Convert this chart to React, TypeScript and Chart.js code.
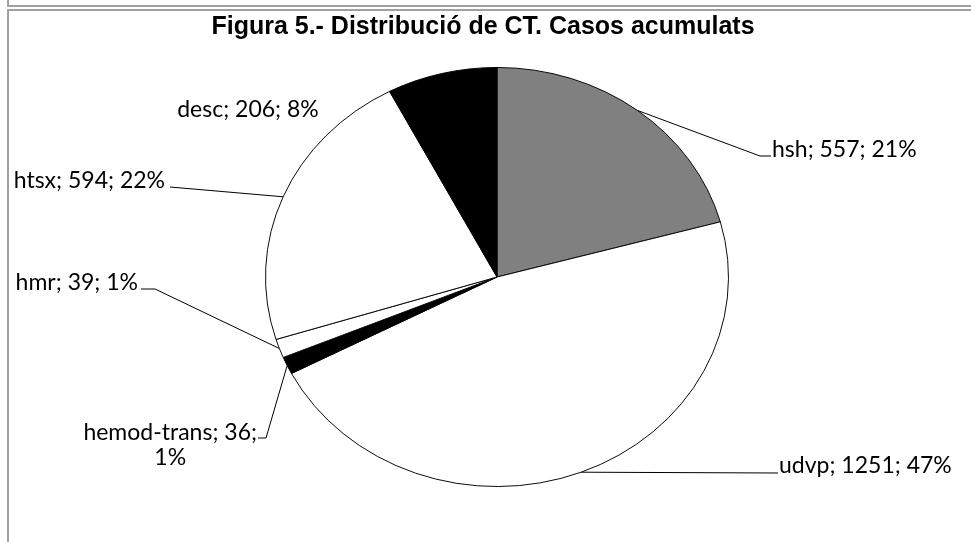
import React, { useEffect, useRef } from "react";
import { Chart, registerables } from "chart.js";

Chart.register(...registerables);

const TITLE = "Figura 5.- Distribució de CT. Casos acumulats";
const categories = ["hsh", "udvp", "hemod-trans", "hmr", "htsx", "desc"];
const values = [557, 1251, 36, 39, 594, 206];
const sliceColors = ["#808080", "#ffffff", "#000000", "#ffffff", "#ffffff", "#000000"];

// vertical squash of the pie (the reference pie is an ellipse, wider than tall)
const SQUASH = 210 / 232;

type LabelSpec = {
  x: number;
  y: number;
  align: CanvasTextAlign;
  split?: boolean;
  path?: number[][];
};

const LABEL_LAYOUT: LabelSpec[] = [
  { x: 772, y: 150, align: "left", path: [[760, 156], [771, 156]] },
  { x: 779, y: 466, align: "left", path: [[778, 473]] },
  { x: 257, y: 433, align: "right", split: true, path: [[266, 438], [258, 438]] },
  { x: 138, y: 283, align: "right", path: [[155, 289], [141, 289]] },
  { x: 165, y: 181, align: "right", path: [[170, 187]] },
  { x: 248, y: 110, align: "center" },
];

const LABEL_FONT = '23px Lato, "Noto Sans", sans-serif';

const ellipsePlugin = {
  id: "ellipse",
  beforeDatasetsDraw(chart: any) {
    const el = chart.getDatasetMeta(0).data[0];
    const ctx = chart.ctx;
    ctx.save();
    ctx.translate(el.x, el.y);
    ctx.scale(1, SQUASH);
    ctx.translate(-el.x, -el.y);
  },
  afterDatasetsDraw(chart: any) {
    chart.ctx.restore();
  },
};

const labelPlugin = {
  id: "pieLabels",
  afterDraw(chart: any) {
    const ctx = chart.ctx;
    const total = values.reduce((a, b) => a + b, 0);
    ctx.save();
    ctx.fillStyle = "#000";
    ctx.font = 'bold 25px "Liberation Sans", Arial, sans-serif';
    ctx.textAlign = "center";
    ctx.textBaseline = "middle";
    ctx.fillText(TITLE, 483, 27);
    ctx.restore();

    const meta = chart.getDatasetMeta(0);
    meta.data.forEach((el: any, i: number) => {
      const { x, y, startAngle, endAngle, outerRadius } = el.getProps(
        ["x", "y", "startAngle", "endAngle", "outerRadius"],
        true
      );
      const mid = (startAngle + endAngle) / 2;
      const ex = x + outerRadius * Math.cos(mid);
      const ey = y + SQUASH * outerRadius * Math.sin(mid);
      const spec = LABEL_LAYOUT[i];
      ctx.save();
      ctx.strokeStyle = "#000";
      ctx.lineWidth = 1;
      if (spec.path) {
        ctx.beginPath();
        ctx.moveTo(ex, ey);
        spec.path.forEach((p) => ctx.lineTo(p[0], p[1]));
        ctx.stroke();
      }
      const pct = Math.round((values[i] / total) * 100) + "%";
      ctx.fillStyle = "#000";
      ctx.font = LABEL_FONT;
      ctx.textBaseline = "middle";
      if (spec.split) {
        const l1 = `${categories[i]}; ${values[i]};`;
        const w = ctx.measureText(l1).width;
        ctx.textAlign = "center";
        const cx = spec.align === "right" ? spec.x - w / 2 : spec.x + w / 2;
        ctx.fillText(l1, cx, spec.y);
        ctx.fillText(pct, cx, spec.y + 25);
      } else {
        ctx.textAlign = spec.align;
        ctx.fillText(`${categories[i]}; ${values[i]}; ${pct}`, spec.x, spec.y);
      }
      ctx.restore();
    });
  },
};

export default function App() {
  const ref = useRef<HTMLCanvasElement>(null);
  useEffect(() => {
    if (!ref.current) return;
    const chart = new Chart(ref.current, {
      type: "pie",
      data: {
        labels: categories,
        datasets: [
          {
            data: values,
            backgroundColor: sliceColors,
            borderColor: "#000",
            borderWidth: 1,
            hoverOffset: 0,
          },
        ],
      },
      options: {
        animation: false,
        responsive: false,
        maintainAspectRatio: false,
        layout: { padding: { left: 265, right: 242, top: 42, bottom: 30 } },
        plugins: {
          legend: { display: false },
          tooltip: { enabled: false },
          title: { display: false },
        },
      },
      plugins: [ellipsePlugin, labelPlugin],
    });
    return () => chart.destroy();
  }, []);

  const line = (style: React.CSSProperties) => (
    <div style={{ position: "absolute", background: "#a0a0a0", ...style }} />
  );

  return (
    <div style={{ position: "absolute", left: 0, top: 0, width: 971, height: 542, background: "#fff", overflow: "hidden" }}>
      <canvas ref={ref} width={971} height={542} style={{ position: "absolute", left: 0, top: 0, width: 971, height: 542 }} />
      {line({ left: 7, top: 0, width: 2, height: 5 })}
      {line({ left: 7, top: 5, width: 964, height: 2 })}
      {line({ left: 7, top: 9, width: 964, height: 2 })}
      {line({ left: 7, top: 9, width: 2, height: 533 })}
    </div>
  );
}
